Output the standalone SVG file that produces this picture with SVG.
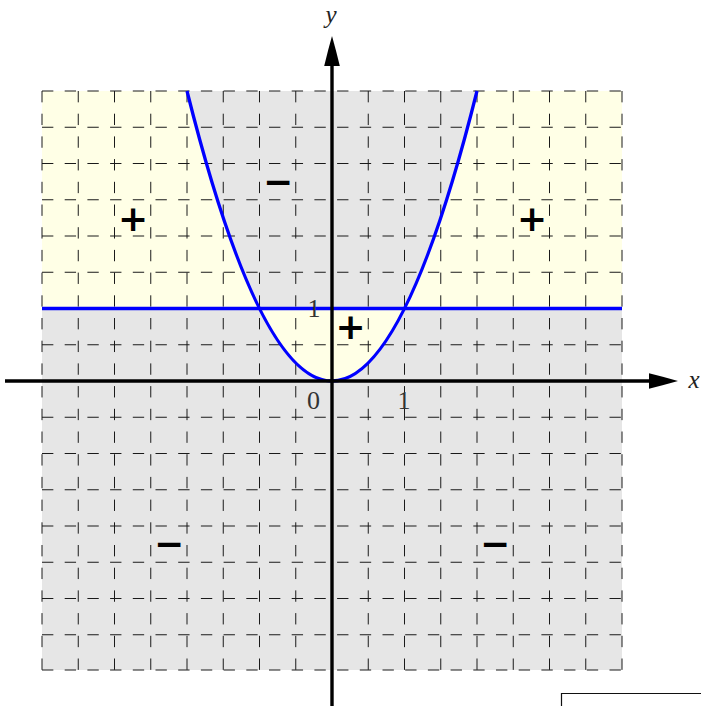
<svg xmlns="http://www.w3.org/2000/svg" width="701" height="706" viewBox="0 0 701 706">
<style>
.grid{stroke:#1a1a1a;stroke-width:1;stroke-dasharray:11.35 11.35;fill:none}
.curve{stroke:#0000ff;stroke-width:3.3;fill:none}
.axis{stroke:#000;stroke-width:3.4;fill:none}
.head{fill:#000}
.lab{font-family:"Liberation Serif",serif;font-size:26px;fill:#333;text-anchor:middle}
.var{font-family:"Liberation Serif",serif;font-style:italic;font-size:25px;fill:#222;text-anchor:middle}
.sign{font-family:"DejaVu Sans",sans-serif;font-weight:bold;font-size:36px;fill:#000;text-anchor:middle}
</style>
<rect width="701" height="706" fill="#fff"/>
<g id="regions">
<rect x="42" y="91" width="580" height="579" fill="#e6e6e6"/>
<path d="M42,91 L187,91 Q223.25,236 259.5,308.5 L42,308.5 Z" fill="#ffffe6"/>
<path d="M622,91 L477,91 Q440.75,236 404.5,308.5 L622,308.5 Z" fill="#ffffe6"/>
<path d="M259.5,308.5 Q332,453.5 404.5,308.5 Z" fill="#ffffe6"/>
</g>
<g id="grid" class="grid">
<path d="M42,91V670 M78.25,91V670 M114.5,91V670 M150.75,91V670 M187,91V670 M223.25,91V670 M259.5,91V670 M295.75,91V670 M332,91V670 M368.25,91V670 M404.5,91V670 M440.75,91V670 M477,91V670 M513.25,91V670 M549.5,91V670 M585.75,91V670 M622,91V670"/>
<path d="M42,91H622 M42,127.25H622 M42,163.5H622 M42,199.75H622 M42,236H622 M42,272.25H622 M42,308.5H622 M42,344.75H622 M42,381H622 M42,417.25H622 M42,453.5H622 M42,489.75H622 M42,526H622 M42,562.25H622 M42,598.5H622 M42,634.75H622 M42,670H622"/>
</g>
<g id="curves">
<path id="parabola" class="curve" d="M187,91 Q332,671 477,91"/>
<path id="line-y1" class="curve" d="M42,308.5H622"/>
</g>
<g id="connectors">
<path id="x-axis" class="axis" d="M5,381H652"/>
<path class="head" d="M678,381 Q664,377 649,373.3 L649,388.7 Q664,385 678,381 Z"/>
<path id="y-axis" class="axis" d="M332,706V62"/>
<path class="head" d="M332,36 Q328,50 324.2,66 L339.8,66 Q336,50 332,36 Z"/>
</g>
<g id="labels">
<text class="var" x="331" y="23">y</text>
<text class="var" x="694" y="388">x</text>
<text class="lab" x="313.5" y="409">0</text>
<text class="lab" x="404" y="409">1</text>
<text class="lab" x="314" y="317">1</text>
</g>
<g id="signs">
<text class="sign" x="133" y="231">+</text>
<text class="sign" x="532" y="231">+</text>
<text class="sign" x="350.5" y="339">+</text>
<text class="sign" x="278" y="194">−</text>
<text class="sign" x="169" y="556">−</text>
<text class="sign" x="495" y="556">−</text>
</g>
<path id="frame" d="M561.5,706V693.5H701" fill="none" stroke="#111" stroke-width="1.2"/>
</svg>
